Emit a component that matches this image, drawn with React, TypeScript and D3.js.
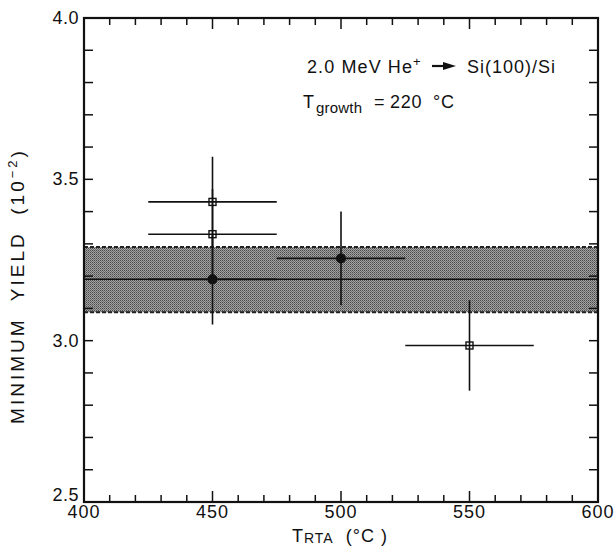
import React from "react";
import * as d3 from "d3";

const squareX = [450, 450, 550];
const squareY = [3.43, 3.33, 2.985];
const squareXErr = [25, 25, 25];
const squareYErr = [0.14, 0.14, 0.14];

const circleX = [450, 500];
const circleY = [3.19, 3.255];
const circleXErr = [25, 25];
const circleYErr = [0.14, 0.145];

const bandLow = 3.088;
const bandHigh = 3.29;
const meanLine = 3.19;

const xTicks = [400, 450, 500, 550, 600];
const yTicks = [2.5, 3.0, 3.5, 4.0];

const W = 615, H = 552;
const L = 84, R = 598, T = 18, B = 502;
const FONT = "'Liberation Sans', Arial, Helvetica, sans-serif";
const pre = { whiteSpace: "pre" } as React.CSSProperties;

export default function App() {
  const x = d3.scaleLinear().domain([400, 600]).range([L, R]);
  const y = d3.scaleLinear().domain([2.5, 4.0]).range([B, T]);
  const xMinor = d3.range(400, 601, 10);
  const yMinor = d3.range(25, 41, 1).map((v) => v / 10);

  return (
    <svg width={W} height={H} style={{ position: "absolute", left: 0, top: 0, background: "#fff" }} fontFamily={FONT}>
      <defs>
        <pattern id="dith" width="2" height="2" patternUnits="userSpaceOnUse">
          <rect width="2" height="2" fill="#a2a2a2" />
          <rect width="1" height="1" fill="#4a4a4a" />
          <rect x="1" y="1" width="1" height="1" fill="#6e6e6e" />
        </pattern>
        <clipPath id="plot">
          <rect x={L} y={T} width={R - L} height={B - T} />
        </clipPath>
      </defs>

      {/* band */}
      <g clipPath="url(#plot)">
        <rect x={L} y={y(bandHigh)} width={R - L} height={y(bandLow) - y(bandHigh)} fill="url(#dith)" />
        <line x1={L} x2={R} y1={y(bandHigh)} y2={y(bandHigh)} stroke="#222" strokeWidth={2} strokeDasharray="4,2" />
        <line x1={L} x2={R} y1={y(bandLow)} y2={y(bandLow)} stroke="#222" strokeWidth={2} strokeDasharray="4,2" />
        <line x1={L} x2={R} y1={y(meanLine)} y2={y(meanLine)} stroke="#111" strokeWidth={1.5} />
      </g>

      {/* error bars */}
      {squareX.map((v, i) => (
        <g key={"se" + i} stroke="#111" strokeWidth={1.6}>
          <line x1={x(v - squareXErr[i])} x2={x(v + squareXErr[i])} y1={y(squareY[i])} y2={y(squareY[i])} />
          <line x1={x(v)} x2={x(v)} y1={y(squareY[i] - squareYErr[i])} y2={y(squareY[i] + squareYErr[i])} />
        </g>
      ))}
      {circleX.map((v, i) => (
        <g key={"ce" + i} stroke="#111" strokeWidth={1.6}>
          <line x1={x(v - circleXErr[i])} x2={x(v + circleXErr[i])} y1={y(circleY[i])} y2={y(circleY[i])} />
          <line x1={x(v)} x2={x(v)} y1={y(circleY[i] - circleYErr[i])} y2={y(circleY[i] + circleYErr[i])} />
        </g>
      ))}
      {squareX.map((v, i) => (
        <rect key={"s" + i} x={x(v) - 3.5} y={y(squareY[i]) - 3.5} width={7} height={7} fill="none" stroke="#111" strokeWidth={1.4} />
      ))}
      {circleX.map((v, i) => (
        <circle key={"c" + i} cx={x(v)} cy={y(circleY[i])} r={5} fill="#111" />
      ))}

      {/* frame */}
      <rect x={L} y={T} width={R - L} height={B - T} fill="none" stroke="#111" strokeWidth={2.2} />

      {/* x ticks */}
      {xMinor.map((v) => {
        const major = v % 50 === 0;
        const len = major ? 11 : 7;
        return (
          <g key={"xt" + v} stroke="#111" strokeWidth={1.5}>
            <line x1={x(v)} x2={x(v)} y1={B} y2={B - len} />
            <line x1={x(v)} x2={x(v)} y1={T} y2={T + len} />
          </g>
        );
      })}
      {/* y ticks */}
      {yMinor.map((v) => {
        const len = 9;
        return (
          <g key={"yt" + v} stroke="#111" strokeWidth={1.5}>
            <line x1={L} x2={L + len} y1={y(v)} y2={y(v)} />
            <line x1={R} x2={R - len} y1={y(v)} y2={y(v)} />
          </g>
        );
      })}

      {/* tick labels */}
      {xTicks.map((v) => (
        <text key={"xl" + v} x={x(v)} y={B + 16} textAnchor="middle" fontSize={18} letterSpacing={1} fill="#111">{v}</text>
      ))}
      {yTicks.map((v) => (
        <text key={"yl" + v} x={L - 5} y={y(v) + 6 - (v === 2.5 ? 7 : 0)} textAnchor="end" fontSize={18} letterSpacing={0.5} fill="#111">{v.toFixed(1)}</text>
      ))}

      {/* axis titles */}
      <text x={292} y={542} fontSize={18} fill="#111" style={pre} letterSpacing={1}>
        T<tspan fontSize={14} dy={1}>RTA</tspan><tspan dy={-1}>{"  (°C )"}</tspan>
      </text>
      <text transform={`translate(24,286) rotate(-90)`} textAnchor="middle" fontSize={19} fill="#111" style={pre} letterSpacing={3}>
        MINIMUM  YIELD  (10<tspan fontSize={13} dy={-7}>−2</tspan><tspan dy={7}>)</tspan>
      </text>

      {/* annotations */}
      <text x={307} y={73} fontSize={18} letterSpacing={1.1} fill="#111">
        2.0 MeV He<tspan fontSize={13} dy={-7}>+</tspan>
      </text>
      <line x1={432} x2={446} y1={66} y2={66} stroke="#111" strokeWidth={2.2} />
      <polygon points="443,62 456,66 443,70" fill="#111" />
      <text x={467} y={73} fontSize={18} letterSpacing={1} fill="#111">Si(100)/Si</text>
      <text x={303} y={108} fontSize={18} fill="#111">T</text>
      <text x={316} y={113} fontSize={15} fill="#111" letterSpacing={0.2}>growth</text>
      <text x={374} y={108} fontSize={18} fill="#111">=</text>
      <text x={390} y={108} fontSize={18} fill="#111" letterSpacing={0.8}>220</text>
      <text x={433} y={108} fontSize={18} fill="#111" letterSpacing={0.8}>°C</text>
    </svg>
  );
}
